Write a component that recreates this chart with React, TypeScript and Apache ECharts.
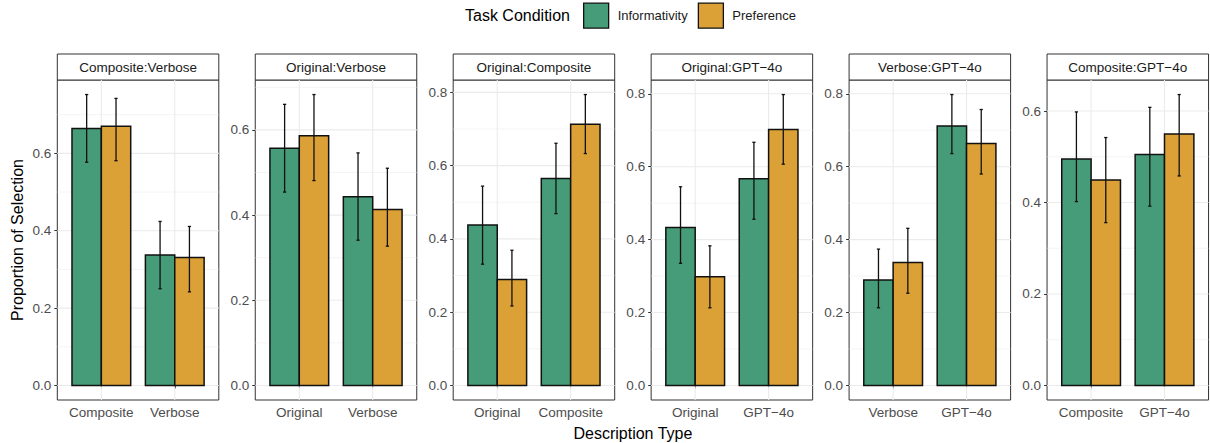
import React, { useEffect, useRef } from "react";
import * as echarts from "echarts";

// ---------- data ----------
const panelTitles = [
  "Composite:Verbose",
  "Original:Verbose",
  "Original:Composite",
  "Original:GPT−4o",
  "Verbose:GPT−4o",
  "Composite:GPT−4o",
];
const panelCategories = [
  ["Composite", "Verbose"],
  ["Original", "Verbose"],
  ["Original", "Composite"],
  ["Original", "GPT−4o"],
  ["Verbose", "GPT−4o"],
  ["Composite", "GPT−4o"],
];
const conditions = ["Informativity", "Preference"];

const informativity = [
  [0.664, 0.337],
  [0.557, 0.443],
  [0.438, 0.565],
  [0.433, 0.567],
  [0.289, 0.712],
  [0.495, 0.505],
];
const informativityLow = [
  [0.577, 0.25],
  [0.454, 0.341],
  [0.331, 0.469],
  [0.335, 0.456],
  [0.213, 0.636],
  [0.402, 0.392],
];
const informativityHigh = [
  [0.752, 0.424],
  [0.66, 0.546],
  [0.544, 0.661],
  [0.545, 0.667],
  [0.374, 0.798],
  [0.598, 0.608],
];
const preference = [
  [0.67, 0.331],
  [0.586, 0.413],
  [0.289, 0.713],
  [0.298, 0.702],
  [0.337, 0.664],
  [0.449, 0.55],
];
const preferenceLow = [
  [0.581, 0.242],
  [0.481, 0.327],
  [0.217, 0.633],
  [0.213, 0.607],
  [0.253, 0.58],
  [0.356, 0.458],
];
const preferenceHigh = [
  [0.742, 0.411],
  [0.683, 0.51],
  [0.369, 0.794],
  [0.383, 0.798],
  [0.431, 0.757],
  [0.542, 0.636],
];
const yMajorTicks = [0, 0.2, 0.4, 0.6, 0.8];
const yMinorTicks = [0.1, 0.3, 0.5, 0.7, 0.9];

// ---------- style / layout ----------
const COLORS = ["#469C78", "#DCA136"];
const FONT = "Liberation Sans, Arial, Helvetica, sans-serif";
const W = 1210;
const H = 443;
const FIRST_LEFT = 57.3;
const STEP = 197.95;
const PANEL_W = 161.5;
const STRIP_TOP = 54;
const PANEL_TOP = 80;
const PANEL_BOTTOM = 400;
const GRID_COLOR = "#EBEBEB";
const DARK = "#111111";

function buildOption() {
  const grids: any[] = [];
  const xAxes: any[] = [];
  const yAxes: any[] = [];
  const series: any[] = [];
  const graphics: any[] = [];

  panelTitles.forEach((title, i) => {
    const left = FIRST_LEFT + i * STEP;
    const cats = panelCategories[i];
    const highs = [...informativityHigh[i], ...preferenceHigh[i]];
    const R = Math.max(...highs);
    const yMin = -0.05 * R;
    const yMax = 1.05 * R;
    const majors = yMajorTicks.filter((v) => v <= yMax);
    const minors = yMinorTicks.filter((v) => v <= yMax);

    grids.push({
      left,
      top: PANEL_TOP,
      width: PANEL_W,
      height: PANEL_BOTTOM - PANEL_TOP,
      show: true,
      backgroundColor: "#fff",
      borderColor: "#333333",
      borderWidth: 1,
      containLabel: false,
    });

    xAxes.push({
      type: "value",
      gridIndex: i,
      min: 0.4,
      max: 2.6,
      splitLine: { show: false },
      axisLine: { show: false },
      axisTick: {
        show: true,
        length: 3,
        customValues: [1, 2],
        lineStyle: { color: "#333333", width: 1 },
      },
      axisLabel: {
        customValues: [1, 2],
        formatter: (v: number) => cats[Math.round(v) - 1] ?? "",
        color: "#4D4D4D",
        fontSize: 13.5,
        fontFamily: FONT,
        margin: 5,
      },
    });

    yAxes.push({
      type: "value",
      gridIndex: i,
      min: yMin,
      max: yMax,
      splitLine: { show: false },
      axisLine: { show: false },
      axisTick: {
        show: true,
        length: 3,
        customValues: majors,
        lineStyle: { color: "#333333", width: 1 },
      },
      axisLabel: {
        customValues: majors,
        formatter: (v: number) => v.toFixed(1),
        color: "#4D4D4D",
        fontSize: 13.5,
        fontFamily: FONT,
        margin: 6,
      },
    });

    // grid lines (0 = major horizontal, 1 = minor horizontal, 2 = vertical)
    const gridData: number[][] = [
      ...majors.map((v) => [0, v]),
      ...minors.map((v) => [1, v]),
      [2, 1],
      [2, 2],
    ];
    series.push({
      type: "custom",
      xAxisIndex: i,
      yAxisIndex: i,
      z: 1,
      silent: true,
      data: gridData,
      renderItem: (params: any, api: any) => {
        const kind = api.value(0);
        const v = api.value(1);
        const cs = params.coordSys;
        if (kind === 2) {
          const x = api.coord([v, 0])[0];
          return {
            type: "line",
            shape: { x1: x, y1: cs.y, x2: x, y2: cs.y + cs.height },
            style: { stroke: GRID_COLOR, lineWidth: 1.1 },
          };
        }
        const y = api.coord([1, v])[1];
        return {
          type: "line",
          shape: { x1: cs.x, y1: y, x2: cs.x + cs.width, y2: y },
          style: { stroke: GRID_COLOR, lineWidth: kind === 0 ? 1.1 : 0.55 },
        };
      },
    });

    const values = [informativity[i], preference[i]];
    const lows = [informativityLow[i], preferenceLow[i]];
    const his = [informativityHigh[i], preferenceHigh[i]];

    conditions.forEach((name, k) => {
      series.push({
        type: "custom",
        name,
        xAxisIndex: i,
        yAxisIndex: i,
        z: 2,
        silent: true,
        itemStyle: { color: COLORS[k] },
        data: values[k].map((v, j) => [j + 1, v]),
        renderItem: (_params: any, api: any) => {
          const c = api.value(0);
          const v = api.value(1);
          const x0 = c - 0.4 + k * 0.4;
          const p0 = api.coord([x0, v]);
          const p1 = api.coord([x0 + 0.4, 0]);
          return {
            type: "rect",
            shape: {
              x: p0[0],
              y: p0[1],
              width: p1[0] - p0[0],
              height: p1[1] - p0[1],
            },
            style: { fill: COLORS[k], stroke: DARK, lineWidth: 1.5 },
          };
        },
      });
    });

    const errData: number[][] = [];
    conditions.forEach((_n, k) => {
      lows[k].forEach((lo, j) => {
        errData.push([j + 1 - 0.2 + k * 0.4, lo, his[k][j]]);
      });
    });
    series.push({
      type: "custom",
      xAxisIndex: i,
      yAxisIndex: i,
      z: 3,
      silent: true,
      data: errData,
      renderItem: (_params: any, api: any) => {
        const x = api.value(0);
        const lo = api.value(1);
        const hi = api.value(2);
        const pt = api.coord([x, hi]);
        const pb = api.coord([x, lo]);
        const xl = api.coord([x - 0.022, hi])[0];
        const xr = api.coord([x + 0.022, hi])[0];
        const st = { stroke: DARK, lineWidth: 1.3 };
        return {
          type: "group",
          children: [
            { type: "line", shape: { x1: pt[0], y1: pt[1], x2: pb[0], y2: pb[1] }, style: st },
            { type: "line", shape: { x1: xl, y1: pt[1], x2: xr, y2: pt[1] }, style: st },
            { type: "line", shape: { x1: xl, y1: pb[1], x2: xr, y2: pb[1] }, style: st },
          ],
        };
      },
    });

    // strip
    graphics.push({
      type: "rect",
      shape: { x: left, y: STRIP_TOP, width: PANEL_W, height: PANEL_TOP - STRIP_TOP },
      style: { fill: "#fff", stroke: "#333333", lineWidth: 1 },
      silent: true,
    });
    graphics.push({
      type: "text",
      x: left + PANEL_W / 2,
      y: (STRIP_TOP + PANEL_TOP) / 2 + 0.5,
      silent: true,
      style: {
        text: title,
        fill: "#1a1a1a",
        fontSize: 13.5,
        fontFamily: FONT,
        textAlign: "center",
        textVerticalAlign: "middle",
      },
    });
  });

  // axis titles
  graphics.push({
    type: "text",
    x: (FIRST_LEFT + FIRST_LEFT + 5 * STEP + PANEL_W) / 2,
    y: 433,
    silent: true,
    style: {
      text: "Description Type",
      fill: "#000",
      fontSize: 16,
      fontFamily: FONT,
      textAlign: "center",
      textVerticalAlign: "middle",
    },
  });
  graphics.push({
    type: "text",
    x: 17,
    y: (PANEL_TOP + PANEL_BOTTOM) / 2,
    rotation: Math.PI / 2,
    silent: true,
    style: {
      text: "Proportion of Selection",
      fill: "#000",
      fontSize: 16,
      fontFamily: FONT,
      textAlign: "center",
      textVerticalAlign: "middle",
    },
  });
  // legend title
  graphics.push({
    type: "text",
    x: 465,
    y: 15,
    silent: true,
    style: {
      text: "Task Condition",
      fill: "#000",
      fontSize: 16,
      fontFamily: FONT,
      textAlign: "left",
      textVerticalAlign: "middle",
    },
  });

  return {
    animation: false,
    backgroundColor: "#fff",
    grid: grids,
    xAxis: xAxes,
    yAxis: yAxes,
    series,
    legend: {
      left: 583,
      top: 2.5,
      padding: 0,
      itemWidth: 25,
      itemHeight: 25,
      itemGap: 10,
      selectedMode: false,
      icon: "rect",
      data: conditions.map((n, k) => ({
        name: n,
        icon: "rect",
        itemStyle: { color: COLORS[k], borderColor: DARK, borderWidth: 1.3 },
      })),
      textStyle: {
        fontSize: 13,
        color: "#1a1a1a",
        fontFamily: FONT,
        padding: [0, 0, 0, 4],
      },
    },
    graphic: graphics,
  };
}

export default function App() {
  const ref = useRef<HTMLDivElement>(null);
  useEffect(() => {
    if (!ref.current) return;
    const chart = echarts.init(ref.current, undefined, { renderer: "svg" });
    chart.setOption(buildOption() as any);
    return () => chart.dispose();
  }, []);
  return (
    <div
      ref={ref}
      style={{ position: "absolute", left: 0, top: 0, width: W, height: H, background: "#fff" }}
    />
  );
}
